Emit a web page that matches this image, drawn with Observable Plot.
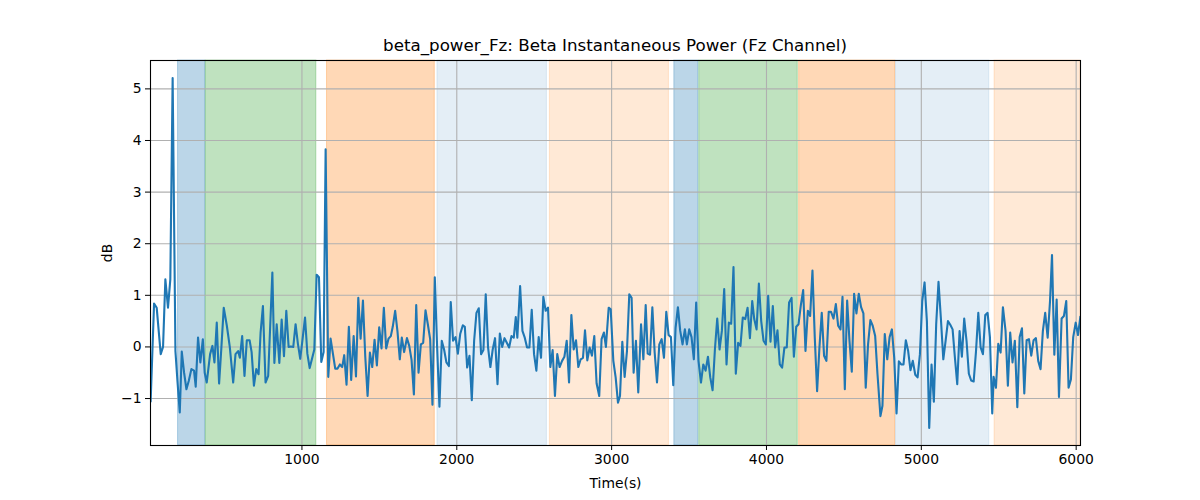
<!DOCTYPE html>
<html>
<head>
<meta charset="utf-8">
<script src="https://cdn.jsdelivr.net/npm/d3@7"></script>
<script src="https://cdn.jsdelivr.net/npm/@observablehq/plot@0.6"></script>
<style>
  html, body { margin: 0; padding: 0; background: white; }
  #wrap { position: relative; width: 1200px; height: 500px; }
  #title { position: absolute; left: 150px; width: 930px; top: 35px; text-align: center;
           font-family: "DejaVu Sans", sans-serif; font-size: 16.7px; line-height: 20px; color: #000; }
</style>
</head>
<body>
<div id="wrap">
  <div id="title">beta_power_Fz: Beta Instantaneous Power (Fz Channel)</div>
  <div id="chart"></div>
</div>
<script>
const titleText = "beta_power_Fz: Beta Instantaneous Power (Fz Channel)";
const xLabel = "Time(s)";
const yLabel = "dB";
const xTicks = [1000, 2000, 3000, 4000, 5000, 6000];
const yTicks = [-1, 0, 1, 2, 3, 4, 5];
const xDomain = [22, 6028];
const yDomain = [-1.91, 5.55];

// shaded segments
const regionStart = [200, 379, 1162, 1875, 2601, 3405, 3566, 4211, 4836, 5473];
const regionEnd   = [376, 1093, 1858, 2582, 3370, 3560, 4202, 4831, 5439, 6028];
const regionColor = ["#1f77b4", "#2ca02c", "#ff7f0e", "#1f77b4", "#ff7f0e", "#1f77b4", "#2ca02c", "#ff7f0e", "#1f77b4", "#ff7f0e"];
const regionAlpha = [0.3, 0.3, 0.3, 0.12, 0.17, 0.3, 0.3, 0.3, 0.12, 0.17];

// beta instantaneous power series
const times = [
  23,45,62,88,103,118,135,150,165,183,196,211,224,239,254,269,286,303,314,329,344,360,372,385,407,422,435,450,465,480,495,515,534,556,571,588,599,614,629,644,662,675,690,705,720,733,748,765,782,
  809,822,837,854,869,884,899,914,929,944,959,974,989,1004,1020,1035,1050,1065,1080,1095,1110,1125,1140,1153,1170,1185,1200,1215,1230,1245,1260,1273,1288,1303,1318,1334,1349,1364,1379,1394,1409,1424,1439,1454,1469,1484,1499,1514,1529,1544,1559,1574,1587,1602,1617,
  1632,1645,1660,1678,1693,1708,1723,1738,1753,1768,1783,1798,1813,1828,1843,1858,1873,1888,1903,1918,1933,1949,1961,1976,1992,2007,2022,2039,2052,2067,2082,2097,2112,2127,2142,2157,2172,2187,2202,2217,2232,2247,2263,2278,2293,2308,2323,2338,2353,2368,
  2381,2391,2409,2424,2439,2454,2469,2484,2499,2514,2529,2544,2559,2574,2589,2604,2619,2634,2649,2664,2680,2695,2710,2725,2740,2755,2770,2785,2800,2815,2828,2843,2858,2873,2888,2903,2920,2935,2950,2963,2981,2994,3011,3026,3041,3054,3069,3084,3099,3114,3129,3142,
  3157,3172,3190,3205,3220,3233,3248,3263,3278,3293,3308,3323,3338,3353,3368,3383,3398,3413,3428,3443,3458,3473,3486,3501,3516,3531,3546,3561,3577,3592,3607,3622,3637,3652,3667,3682,3697,3712,3727,3742,3757,3772,3787,3802,3817,3832,3847,3863,3878,3893,3908,3921,
  3936,3951,3966,3981,3996,4011,4026,4041,4056,4071,4086,4101,4116,4131,4146,4162,4177,4192,4207,4222,4237,4252,4267,4282,4297,4312,4327,4342,4357,4372,4387,4402,4417,4433,4448,4463,4478,4491,4506,4521,4536,4551,4566,4581,4596,4611,4626,4641,4656,4671,4686,
  4702,4717,4736,4749,4764,4780,4795,4810,4825,4840,4855,4870,4885,4900,4915,4930,4945,4961,4976,4991,5006,5021,5036,5051,5066,5081,5096,5111,5126,5142,5157,5172,5187,5202,5217,5232,5247,5262,5277,5292,5307,5322,5338,5353,5368,5383,5398,5413,5428,5443,5458,
  5467,5482,5497,5512,5527,5544,5559,5574,5589,5604,5620,5635,5650,5665,5680,5695,5710,5725,5740,5755,5770,5785,5800,5816,5831,5844,5859,5874,5889,5906,5921,5936,5951,5966,5981,5997,6012,6027
];
const power = [
  -1.05,0.84,0.76,-0.14,0.0,1.31,0.76,1.31,5.21,-0.08,-0.66,-1.27,-0.09,-0.5,-0.82,-0.66,-0.43,-0.46,-0.77,0.18,-0.3,0.15,-0.5,-0.69,-0.14,0.02,-0.3,0.47,-0.71,0.0,0.76,0.41,0.0,-0.69,-0.14,-0.08,-0.21,0.21,-0.56,0.13,0.13,-0.1,-0.75,-0.43,-0.53,0.28,0.79,-0.69,-0.56,
  1.44,-0.31,0.44,-0.31,0.53,-0.18,0.70,0.0,0.01,0.0,0.44,0.06,-0.23,0.15,0.57,-0.13,-0.41,-0.23,-0.05,1.40,1.35,-0.29,-0.1,3.83,-0.58,0.16,-0.13,-0.42,-0.42,-0.34,-0.39,-0.16,-0.73,0.39,-0.64,0.21,-0.57,0.95,0.16,0.9,-0.19,-0.95,-0.11,-0.39,0.14,-0.36,0.38,-0.03,0.76,-0.03,0.16,0.21,0.4,0.70,0.3,
  -0.24,0.18,-0.10,0.17,0.02,-0.25,-0.92,0.81,-0.5,0.05,0.08,0.71,0.44,0.15,-1.12,1.35,0.0,-1.16,0.12,-0.05,-0.3,-0.37,0.87,0.12,0.19,-0.13,0.25,0.42,0.39,-0.4,-0.17,-1.03,0.12,0.66,0.75,-0.14,-0.06,1.02,-0.01,-0.39,-0.05,0.17,-0.72,0.26,0.0,0.17,0.08,-0.01,0.21,0.18,
  0.58,0.18,1.18,0.31,0.18,-0.01,-0.01,0.72,-0.14,-0.46,0.19,-0.21,0.97,0.7,0.76,-0.39,-0.06,-0.95,-0.14,-0.39,-0.27,-0.19,0.12,-0.69,0.62,-0.05,0.13,-0.39,-0.24,-0.21,0.32,-0.26,-0.01,-0.17,0.21,-0.71,-0.95,0.15,0.28,0.0,0.76,0.73,-0.27,-0.59,-1.08,-0.95,0.1,-0.58,-0.08,1.02,0.95,-0.5,
  0.12,-0.88,0.44,-0.24,0.81,-0.13,-0.15,0.77,-0.11,-0.69,0.05,0.15,-0.21,0.68,0.23,0.19,-0.74,0.37,0.77,0.31,0.05,0.34,0.05,0.34,0.19,-0.24,0.86,-0.27,-0.69,-0.34,-0.46,-0.19,-0.59,-0.84,-0.05,0.55,-0.05,0.31,1.12,-0.34,0.47,0.45,1.55,-0.52,0.08,0.02,0.57,0.54,0.76,0.17,0.89,0.54,
  0.34,1.23,0.5,0.12,0.05,0.99,0.1,0.79,-0.01,0.32,-0.34,-0.4,-0.01,-0.01,0.86,0.95,-0.19,0.39,0.44,0.81,1.1,-0.08,0.7,0.6,1.48,0.18,-0.86,-0.01,0.66,-0.17,-0.27,0.68,0.68,0.55,0.83,0.41,0.34,0.97,-0.82,0.9,0.12,-0.48,1.03,0.65,1.03,0.77,0.65,-0.79,0.05,0.52,0.41,
  0.21,-0.53,-1.34,-1.14,0.25,-0.24,0.19,0.34,-0.21,-1.29,-0.28,-0.34,-0.34,0.13,-0.08,-0.45,-0.27,-0.54,-0.59,-0.14,0.89,1.25,0.5,-1.57,-0.34,-1.06,0.44,1.26,0.57,-0.24,0.12,0.5,0.43,0.34,-0.21,-0.72,0.31,-0.19,0.55,0.12,-0.52,-0.65,-0.67,-0.09,0.66,-0.01,-0.14,0.62,0.66,0.19,-1.29,
  -0.58,-0.79,0.06,-0.11,0.77,0.31,-0.75,0.28,-0.3,0.12,-1.17,0.19,0.36,-0.9,0.13,0.15,-0.17,0.13,0.17,-0.27,-0.43,0.31,0.66,0.18,0.88,1.78,-0.15,0.92,-0.97,0.55,0.6,0.89,-0.79,-0.63,0.19,0.47,0.23,0.58
];

const series = times.map((t, i) => ({t, v: power[i]}));
const regions = regionStart.map((s, i) => ({s, e: regionEnd[i], c: regionColor[i], a: regionAlpha[i]}));

document.getElementById("title").textContent = titleText;

const chart = Plot.plot({
  width: 1200,
  height: 500,
  marginLeft: 150,
  marginRight: 120,
  marginTop: 60,
  marginBottom: 55,
  style: {fontFamily: "DejaVu Sans, sans-serif", fontSize: "13.9px", background: "white", color: "black", overflow: "visible"},
  x: {domain: xDomain, ticks: xTicks, tickFormat: "d", label: xLabel, labelAnchor: "center", labelArrow: "none", labelOffset: 42, tickSize: 5, tickPadding: 4},
  y: {domain: yDomain, ticks: yTicks, tickFormat: "d", label: yLabel, labelAnchor: "center", labelArrow: "none", labelOffset: 48, tickSize: 5, tickPadding: 4},
  marks: [
    Plot.rect(regions, {x1: "s", x2: "e", fill: "c", fillOpacity: "a", stroke: "c", strokeOpacity: "a", strokeWidth: 1}),
    Plot.gridX(xTicks, {stroke: "#b0b0b0", strokeOpacity: 1, strokeWidth: 1.1}),
    Plot.gridY(yTicks, {stroke: "#b0b0b0", strokeOpacity: 1, strokeWidth: 1.1}),
    Plot.line(series, {x: "t", y: "v", stroke: "#1f77b4", strokeWidth: 2.1, strokeLinejoin: "round", strokeLinecap: "square", clip: true}),
    Plot.frame({stroke: "black", strokeWidth: 1.1})
  ]
});
document.getElementById("chart").appendChild(chart);
</script>
</body>
</html>
